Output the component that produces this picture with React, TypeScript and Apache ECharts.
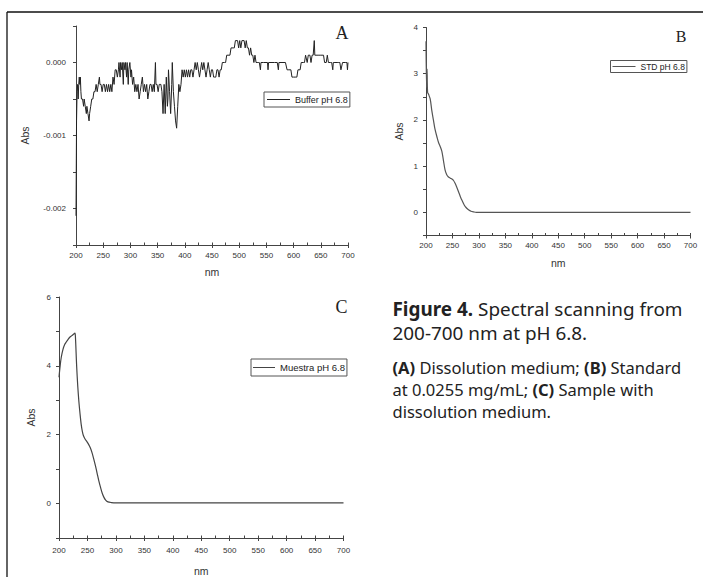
import React, { useEffect, useRef } from "react";
import * as echarts from "echarts";

// Panel A: Buffer pH 6.8
const bufferNm = [200, 201, 202, 203, 204, 205, 206, 207, 208, 209, 210, 212, 214, 215, 217, 219, 220, 222, 224, 225, 227, 229, 231, 233, 235, 237, 239, 241, 243, 244, 246, 248, 250, 252, 254, 256, 258, 260, 262, 264, 266, 268, 270, 272, 274, 276, 278, 279, 281, 282, 284, 285, 287, 288, 290, 291, 293, 294, 296, 297, 299, 301, 302, 304, 306, 308, 310, 312, 314, 316, 318, 320, 322, 324, 326, 328, 330, 332, 334, 336, 338, 340, 342, 344, 346, 347, 349, 351, 353, 356, 358, 360, 362, 364, 366, 368, 369, 370, 372, 374, 376, 377, 379, 381, 383, 385, 387, 389, 391, 393, 395, 397, 399, 401, 403, 405, 407, 409, 411, 413, 415, 417, 419, 421, 423, 425, 427, 429, 431, 433, 435, 437, 439, 441, 443, 445, 447, 449, 451, 453, 455, 457, 459, 461, 463, 465, 467, 469, 473, 475, 477, 483, 485, 489, 491, 493, 497, 499, 501, 503, 505, 507, 509, 511, 513, 515, 517, 519, 521, 523, 525, 527, 529, 531, 533, 535, 537, 539, 540, 545, 552, 553, 554, 565, 570, 572, 573, 585, 588, 590, 595, 597, 600, 604, 606, 608, 612, 614, 618, 620, 622, 625, 627, 630, 632, 634, 636, 638, 639, 640, 645, 650, 655, 657, 660, 662, 664, 668, 670, 672, 673, 676, 680, 683, 685, 687, 690, 695, 698, 699, 700];
const bufferAbs = [-0.0021, -0.0008, -0.0004, -0.0003, -0.0005, -0.0003, -0.0002, -0.0003, -0.0002, -0.0004, -0.0005, -0.0005, -0.0006, -0.0005, -0.0006, -0.0007, -0.0006, -0.0007, -0.0008, -0.0007, -0.0006, -0.0005, -0.0005, -0.0004, -0.0004, -0.0003, -0.0004, -0.0003, -0.0002, -0.0003, -0.0003, -0.0004, -0.0003, -0.0003, -0.0004, -0.0003, -0.0004, -0.0003, -0.0004, -0.0003, -0.0004, -0.0002, -0.0003, -0.0001, -0.0001, -0.0002, -0.0001, 0.0, -0.0002, 0.0, -0.0001, 0.0, -0.0003, 0.0, -0.0001, 0.0, -0.0002, 0.0, -0.0003, -0.0001, 0.0, -0.0002, -0.0001, -0.0003, -0.0002, -0.0004, -0.0003, -0.0004, -0.0003, -0.0005, -0.0004, -0.0003, -0.0002, -0.0004, -0.0003, -0.0004, -0.0003, -0.0005, -0.0004, -0.0003, -0.0003, -0.0004, -0.0003, -0.0004, 0.0, -0.0003, -0.0003, -0.0004, -0.0003, -0.0003, -0.0004, -0.0007, -0.0003, -0.0007, -0.0002, -0.0006, -0.0005, -0.0001, -0.0004, -0.0007, -0.0003, 0.0, -0.0004, -0.0006, -0.0008, -0.0009, -0.0006, -0.0003, -0.0004, -0.0003, -0.0001, -0.0002, -0.0001, -0.0002, -0.0001, -0.0002, -0.0001, -0.0002, -0.0001, -0.0001, -0.0002, -0.0001, 0.0, -0.0001, 0.0, -0.0001, -0.0002, -0.0001, 0.0, -0.0001, 0.0, -0.0001, -0.0002, -0.0001, 0.0, -0.0001, -0.0002, -0.0001, -0.0001, -0.0002, -0.0002, -0.0002, -0.0001, -0.0001, -0.0002, -0.0001, -0.0001, 0.0, 0.0, 0.0, 0.0001, 0.0001, 0.0002, 0.0002, 0.0002, 0.0003, 0.0003, 0.0002, 0.0003, 0.0002, 0.0003, 0.0003, 0.0003, 0.0002, 0.0003, 0.0002, 0.0002, 0.0001, 0.0002, 0.0001, 0.0001, 0.0, 0.0001, 0.0, 0.0, 0.0, 0.0, -0.0001, 0.0, 0.0, 0.0, -0.0001, 0.0, 0.0, 0.0, -0.0001, 0.0, 0.0, -0.0001, -0.0001, -0.0001, -0.0002, -0.0002, -0.0002, -0.0002, -0.0001, -0.0001, 0.0, 0.0, 0.0, 0.0001, 0.0, 0.0001, 0.0001, 0.0, 0.0001, 0.0001, 0.0003, 0.0001, 0.0001, 0.0001, 0.0001, 0.0001, 0.0, 0.0, 0.0001, 0.0, 0.0, 0.0, -0.0001, 0.0, 0.0, 0.0, 0.0, 0.0, -0.0001, 0.0, 0.0, 0.0, -0.0001, 0.0];

// Panel B: STD pH 6.8
const stdNm = [200, 201, 202, 203, 205, 208, 211, 214, 217, 221, 224, 227, 230, 233, 236, 239, 242, 246, 249, 252, 255, 258, 262, 265, 268, 271, 274, 277, 281, 285, 290, 295, 300, 350, 400, 450, 500, 550, 600, 650, 700];
const stdAbs = [3.7, 2.7, 3.1, 2.6, 2.55, 2.45, 2.2, 2.0, 1.8, 1.62, 1.5, 1.42, 1.32, 1.12, 0.92, 0.82, 0.77, 0.74, 0.72, 0.69, 0.63, 0.55, 0.43, 0.34, 0.26, 0.19, 0.13, 0.09, 0.05, 0.025, 0.01, 0.0, 0.0, 0.0, 0.0, 0.0, 0.0, 0.0, 0.0, 0.0, 0.0];

// Panel C: Muestra pH 6.8
const sampleNm = [200, 202, 204, 207, 210, 213, 216, 219, 222, 225, 228, 229, 230, 231, 233, 235, 237, 239, 241, 243, 246, 249, 252, 255, 258, 261, 264, 267, 270, 273, 276, 279, 282, 286, 292, 300, 350, 400, 450, 500, 550, 600, 650, 700];
const sampleAbs = [3.67, 4.0, 4.25, 4.48, 4.62, 4.7, 4.77, 4.83, 4.87, 4.91, 4.95, 4.8, 4.4, 4.0, 3.4, 2.95, 2.6, 2.3, 2.1, 1.97, 1.87, 1.8, 1.72, 1.62, 1.48, 1.3, 1.1, 0.88, 0.66, 0.47, 0.3, 0.18, 0.1, 0.05, 0.03, 0.02, 0.02, 0.02, 0.02, 0.02, 0.02, 0.02, 0.02, 0.02];

const seriesNames = ["Buffer pH 6.8", "STD pH 6.8", "Muestra pH 6.8"];
const panelLetters = ["A", "B", "C"];
const xLabel = "nm";
const yLabel = "Abs";

const SANS = "'Liberation Sans', Arial, sans-serif";
const SERIF = "'Liberation Serif', 'Times New Roman', serif";
const CAP = "'Noto Sans', Lato, sans-serif";
const AXIS = "#444";

function zip(a: number[], b: number[]) {
  return a.map((v, i) => [v, b[i]]);
}

function xAxes(grid: number, nameGap: number, labelMargin: number) {
  return [
    {
      type: "value", gridIndex: grid, position: "bottom", min: 200, max: 700, interval: 50,
      name: xLabel, nameLocation: "middle", nameGap,
      nameTextStyle: { fontFamily: SANS, fontSize: 10.5, color: "#333" },
      axisLine: { show: true, onZero: false, lineStyle: { color: AXIS, width: 1 } },
      axisTick: { show: true, inside: false, length: 3, lineStyle: { color: AXIS } },
      axisLabel: { fontFamily: SANS, fontSize: 8, color: "#333", margin: labelMargin },
      splitLine: { show: false },
    },
    {
      type: "value", gridIndex: grid, position: "bottom", min: 200, max: 700, interval: 25,
      axisLine: { show: false, onZero: false },
      axisTick: { show: true, inside: true, length: 2.5, lineStyle: { color: AXIS } },
      axisLabel: { show: false },
      splitLine: { show: false },
    },
  ];
}

export default function App() {
  const ref = useRef<HTMLDivElement>(null);
  useEffect(() => {
    if (!ref.current) return;
    const chart = echarts.init(ref.current, null, { renderer: "svg" });
    const legendBase = {
      orient: "vertical", icon: "rect", borderColor: "#555", borderWidth: 1,
      itemHeight: 1, itemGap: 0,
    };
    const option: any = {
      animation: false,
      backgroundColor: "#fff",
      grid: [
        { left: 76, top: 26, width: 272, height: 219 },
        { left: 426, top: 27.5, width: 264.5, height: 208 },
        { left: 59, top: 297, width: 284.5, height: 242 },
      ],
      xAxis: [...xAxes(0, 21, 6), ...xAxes(1, 22, 6), ...xAxes(2, 27, 8)],
      yAxis: [
        {
          type: "value", gridIndex: 0, min: -0.0025, max: 0.0005, interval: 0.0005,
          name: yLabel, nameLocation: "middle", nameGap: 46,
          nameTextStyle: { fontFamily: SANS, fontSize: 10.5, color: "#333" },
          axisLine: { show: true, onZero: false, lineStyle: { color: AXIS } },
          axisTick: { show: true, inside: false, length: 3, lineStyle: { color: AXIS } },
          axisLabel: {
            fontFamily: SANS, fontSize: 8, color: "#333", margin: 10,
            formatter: (v: number) => {
              const k = Math.round(v * 10000);
              return k % 10 === 0 ? (k / 10000).toFixed(3) : "";
            },
          },
          splitLine: { show: false },
        },
        {
          type: "value", gridIndex: 1, min: -0.5, max: 4, interval: 0.5,
          name: yLabel, nameLocation: "middle", nameGap: 22,
          nameTextStyle: { fontFamily: SANS, fontSize: 10.5, color: "#333" },
          axisLine: { show: true, onZero: false, lineStyle: { color: AXIS } },
          axisTick: { show: true, inside: false, length: 3, lineStyle: { color: AXIS } },
          axisLabel: {
            fontFamily: SANS, fontSize: 8, color: "#333", margin: 8,
            formatter: (v: number) => (Number.isInteger(v) ? String(v) : ""),
          },
          splitLine: { show: false },
        },
        {
          type: "value", gridIndex: 2, min: -1, max: 6, interval: 1,
          name: yLabel, nameLocation: "middle", nameGap: 23,
          nameTextStyle: { fontFamily: SANS, fontSize: 10.5, color: "#333" },
          axisLine: { show: true, onZero: false, lineStyle: { color: AXIS } },
          axisTick: { show: true, inside: false, length: 3, lineStyle: { color: AXIS } },
          axisLabel: {
            fontFamily: SANS, fontSize: 8, color: "#333", margin: 8,
            formatter: (v: number) => (v % 2 === 0 ? String(v) : ""),
          },
          splitLine: { show: false },
        },
      ],
      legend: [
        {
          ...legendBase, data: [seriesNames[0]], left: 264, top: 92,
          padding: [3, 2, 3, 3], itemWidth: 23,
          textStyle: { fontFamily: SANS, fontSize: 9, color: "#222" },
        },
        {
          ...legendBase, data: [seriesNames[1]], left: 610.5, top: 60.5,
          padding: [1.5, 2, 1.5, 2], itemWidth: 23,
          textStyle: { fontFamily: SANS, fontSize: 8.5, color: "#222" },
        },
        {
          ...legendBase, data: [seriesNames[2]], left: 251, top: 359,
          padding: [3.5, 2, 3.5, 2], itemWidth: 22,
          textStyle: { fontFamily: SANS, fontSize: 9.5, color: "#222" },
        },
      ],
      series: [
        {
          name: seriesNames[0], type: "line", xAxisIndex: 0, yAxisIndex: 0,
          data: zip(bufferNm, bufferAbs), symbol: "none", showSymbol: false,
          lineStyle: { color: "#222", width: 1 }, itemStyle: { color: "#222" },
        },
        {
          name: seriesNames[1], type: "line", xAxisIndex: 2, yAxisIndex: 1,
          data: zip(stdNm, stdAbs), symbol: "none", showSymbol: false, smooth: 0.3,
          lineStyle: { color: "#555", width: 1.2 }, itemStyle: { color: "#555" },
        },
        {
          name: seriesNames[2], type: "line", xAxisIndex: 4, yAxisIndex: 2,
          data: zip(sampleNm, sampleAbs), symbol: "none", showSymbol: false, smooth: 0.3,
          lineStyle: { color: "#444", width: 1.2 }, itemStyle: { color: "#444" },
        },
      ],
      graphic: [
        { type: "line", shape: { x1: 7, y1: 12, x2: 703, y2: 12 }, style: { stroke: "#111", lineWidth: 1.3 } },
        { type: "line", shape: { x1: 7, y1: 12, x2: 7, y2: 577 }, style: { stroke: "#111", lineWidth: 1.3 } },
        {
          type: "text", x: 342, y: 33,
          style: { text: panelLetters[0], font: `18px ${SERIF}`, fill: "#222", textAlign: "center", textVerticalAlign: "middle" },
        },
        {
          type: "text", x: 681, y: 36.5,
          style: { text: panelLetters[1], font: `16px ${SERIF}`, fill: "#222", textAlign: "center", textVerticalAlign: "middle" },
        },
        {
          type: "text", x: 341.5, y: 307,
          style: { text: panelLetters[2], font: `18px ${SERIF}`, fill: "#222", textAlign: "center", textVerticalAlign: "middle" },
        },
        {
          type: "text", x: 392.5, y: 296.5,
          style: {
            text: "{b|Figure 4.}{n| Spectral scanning from}\n{n|200-700 nm at pH 6.8.}",
            textVerticalAlign: "top",
            rich: {
              b: { fontFamily: CAP, fontSize: 18.9, fontWeight: "bold", lineHeight: 24, fill: "#222", color: "#222" },
              n: { fontFamily: CAP, fontSize: 18.9, lineHeight: 24, fill: "#222", color: "#222" },
            },
          },
        },
        {
          type: "text", x: 392.5, y: 356.5,
          style: {
            text: "{b|(A)}{n| Dissolution medium; }{b|(B)}{n| Standard}\n{n|at 0.0255 mg/mL; }{b|(C)}{n| Sample with}\n{n|dissolution medium.}",
            textVerticalAlign: "top",
            rich: {
              b: { fontFamily: CAP, fontSize: 16.5, fontWeight: "bold", lineHeight: 22, fill: "#222", color: "#222" },
              n: { fontFamily: CAP, fontSize: 16.5, lineHeight: 22, fill: "#222", color: "#222" },
            },
          },
        },
      ],
    };
    chart.setOption(option);
    return () => chart.dispose();
  }, []);
  return (
    <div
      ref={ref}
      style={{ position: "absolute", left: 0, top: 0, width: 703, height: 577 }}
    />
  );
}
